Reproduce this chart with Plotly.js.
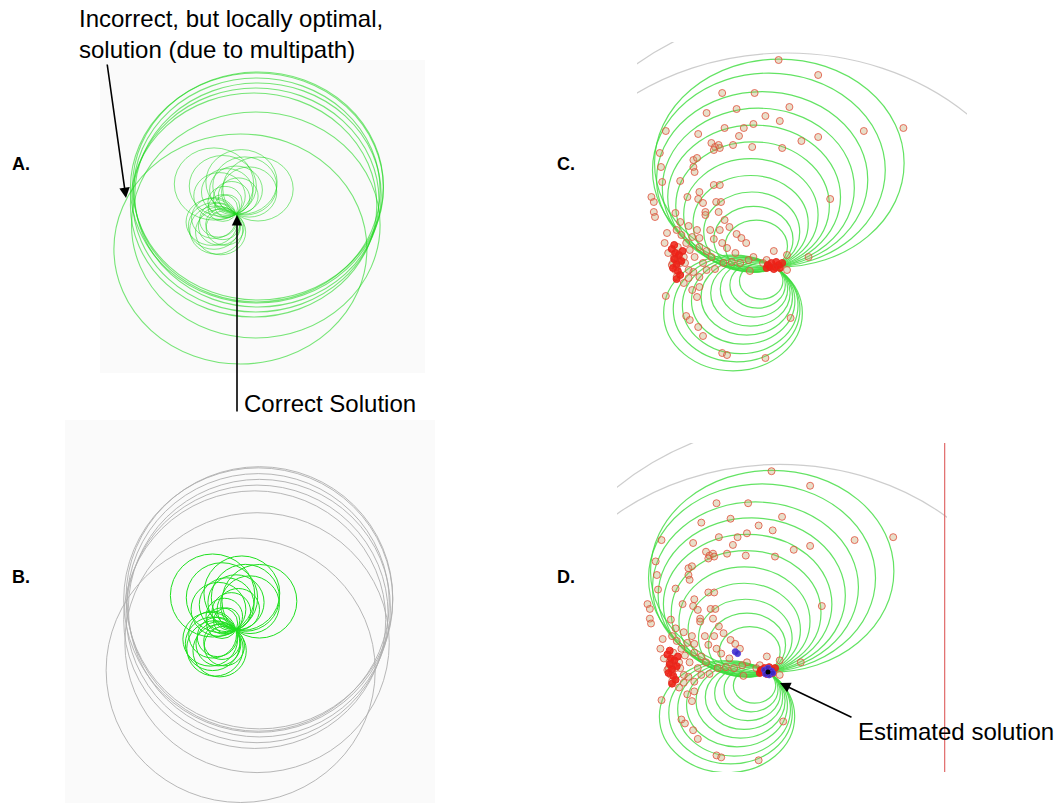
<!DOCTYPE html>
<html><head><meta charset="utf-8">
<script src="https://cdn.plot.ly/plotly-3.0.1.min.js"></script>
<style>html,body{margin:0;padding:0;background:#fff}#chart{width:1062px;height:803px}</style>
</head><body><div id="chart"></div>
<script>
// ---------- Panels A / B : trilateration circles (units: range, origin = correct solution) ----------
const bigCX = [19, 19, 20, 18, 16, 18, 4, 20];
const bigCY = [26, 24, 19, 14, 9, -11, -35, 28];
const bigR  = [115, 112, 112, 112, 112, 113, 115, 114];

const smallCX = [-20, 20, 5, -12, 12, -8, 0, -15, 8, -4, -10, 2, -12, -8,
                 -20, -18, -22, -15, -16, -12, -20, -10, -14];
const smallCY = [30, 25, 32, 28, 22, 22, 24, 18, 28, 16, 12, 18, 6, 8,
                 -12, -16, -8, -12, -6, -10, -4, -14, -18];
const smallR  = [36.1, 32.0, 32.4, 30.5, 25.1, 23.4, 24.0, 23.4, 29.1, 16.5, 15.6, 18.1, 13.4, 11.3,
                 23.3, 24.1, 23.4, 19.2, 17.1, 15.6, 20.4, 17.2, 22.8];

// ---------- Panels C / D : circles through the estimated position ----------
const upperCX = [3.6, -5.1, -10.7, -13.9, -17.4, -18.7, -20.1, -20.3, -19.4, -18.0, -15.6];
const upperCY = [103.9, 96.9, 87.3, 78.8, 69.9, 61.2, 52.3, 43.5, 35.0, 27.7, 20.8];
const upperR  = [104, 97, 88, 80, 72, 64, 56, 48, 40, 33, 26];

const lowerCX = [-35, -32, -29, -26.5, -23.5, -20.5, -17.5, -14.5, -11.5];
const lowerCY = [-46, -42, -38.5, -34, -30, -26, -22, -18, -14];
const lowerR  = [57.8, 52.8, 48.2, 43.1, 38.1, 33.1, 28.1, 23.1, 18.1];

const grayCX = [10, 46];
const grayCY = [-1, 12];
const grayR  = [215, 250];

const markX = [3,36,-44,-17,-57,-32,12,-8,4,-18,
  -26,-42,-30,-91,-64,74,107,36,22,6,
  -19,-35,-53,-50,-47,-46,-51,-96,-95,-94,
  -79,-68,-65,-68,-67,-103,-101,-101,-100,-63,
  -64,-73,-51,-46,-49,-45,-60,-58,-47,-58,
  -42,-83,-79,-72,-82,-78,-65,-69,-63,-54,
  -46,-38,-32,-28,-24,-18,-22,-33,-40,-44,
  -51,-63,-57,-53,-43,-36,-29,-21,-7,-1,
  10,28,-10,10,-90,-92,-89,-81,-76,-79,
  -83,-82,-76,-72,-68,-63,-57,-60,-69,-65,
  -63,-50,-91,-74,-71,-64,-60,-44,-40,-8,
  13,46,-83,-86,-82,-74,-71,-67,-75,-72,
  -85,-82,-81,-84];
const markY = [207,192,174,174,154,158,160,151,146,143,
  139,139,131,136,133,136,139,130,126,119,
  120,122,124,120,122,119,117,114,100,85,
  86,107,109,100,95,70,65,55,50,75,
  68,70,82,82,65,65,64,55,55,52,
  47,54,45,41,37,32,37,30,29,37,
  37,40,33,29,24,10,7,14,19,24,
  28,20,16,10,4,5,4,-4,7,16,
  12,10,4,-3,34,24,14,20,10,4,
  -3,-10,-16,-11,-5,-10,-3,4,-23,-30,
  -20,-2,-29,-49,-53,-60,-69,-86,-88,-91,
  -51,68,7,2,12,24,17,10,4,-3,
  4,0,7,10];

const blobX = [-6,-3,0,3,-1,-4,1,4,6,-7,-84,-82,-80,-85,-78,-83,-81,-86,-79,-84,-82,-77];
const blobY = [2,4,0,2,-2,0,5,-1,4,-1,8,3,12,-1,6,14,-4,18,-8,22,-12,16];

const blueX = [-3,0,3,1,-2,4,-28,-26];
const blueY = [2,4,1,-3,-2,-1,21,19];
const estX = [0];
const estY = [0];
const wallX = [151];

// ---------- layout helpers (pixel geometry of each panel) ----------
const W = 1062, H = 803;
const FONT = 'Liberation Sans, Arial, Helvetica, sans-serif';
const panels = [
  {id:'', box:[100,425,60,373], origin:[236,214], sx:1.10, sy:1.00, bg:'#fafafa'},
  {id:'2', box:[65,435,420,803], origin:[236,630], sx:1.17, sy:1.15, bg:'#fafafa'},
  {id:'3', box:[637,967,42,378], origin:[775,267], sx:1.20, sy:1.00, bg:'#ffffff'},
  {id:'4', box:[617,947,443,772], origin:[768,672], sx:1.17, sy:0.97, bg:'#ffffff'}
];
const layout = {
  width: W, height: H, margin:{l:0,r:0,t:0,b:0},
  paper_bgcolor:'#ffffff', plot_bgcolor:'rgba(0,0,0,0)',
  showlegend:false, shapes:[], annotations:[], font:{family:FONT, color:'#000'}
};
panels.forEach(p => {
  const b = p.box, ox = p.origin[0], oy = p.origin[1];
  layout['xaxis'+p.id] = {domain:[b[0]/W, b[1]/W], range:[(b[0]-ox)/p.sx, (b[1]-ox)/p.sx],
    visible:false, fixedrange:true, anchor:'y'+p.id};
  layout['yaxis'+p.id] = {domain:[1-b[3]/H, 1-b[2]/H], range:[(oy-b[3])/p.sy, (oy-b[2])/p.sy],
    visible:false, fixedrange:true, anchor:'x'+p.id};
  layout.shapes.push({type:'rect', xref:'x'+p.id+' domain', yref:'y'+p.id+' domain',
    x0:0, x1:1, y0:0, y1:1, fillcolor:p.bg, line:{width:0}, layer:'below'});
});
function addCircles(ax, cx, cy, r, color, width) {
  for (let i = 0; i < cx.length; i++) {
    layout.shapes.push({type:'circle', xref:'x'+ax, yref:'y'+ax,
      x0:cx[i]-r[i], x1:cx[i]+r[i], y0:cy[i]-r[i], y1:cy[i]+r[i],
      line:{color:color, width:width}, layer:'below'});
  }
}
// Panel A
addCircles('', bigCX, bigCY, bigR, 'rgba(30,215,30,0.6)', 1.1);
addCircles('', smallCX, smallCY, smallR, 'rgba(30,215,30,0.55)', 1);
// Panel B
addCircles('2', bigCX, bigCY, bigR, 'rgba(175,175,175,0.9)', 1);
addCircles('2', smallCX, smallCY, smallR, '#1ee01e', 1);
// Panels C and D
['3','4'].forEach(ax => {
  addCircles(ax, grayCX, grayCY, grayR, 'rgba(200,200,200,0.9)', 1.2);
  addCircles(ax, upperCX, upperCY, upperR, 'rgba(60,220,60,0.8)', 1.2);
  addCircles(ax, lowerCX, lowerCY, lowerR, 'rgba(60,220,60,0.8)', 1.2);
});
layout.shapes.push({type:'line', xref:'x4', yref:'y4 domain', x0:wallX[0], x1:wallX[0], y0:0, y1:1,
  line:{color:'#e06a6a', width:1.2}});

const traces = [];
traces.push({type:'scatter', mode:'markers', x:bigCX, y:bigCY, xaxis:'x', yaxis:'y',
  marker:{opacity:0}, hoverinfo:'skip'});
traces.push({type:'scatter', mode:'markers', x:bigCX, y:bigCY, xaxis:'x2', yaxis:'y2',
  marker:{opacity:0}, hoverinfo:'skip'});
['3','4'].forEach(ax => {
  traces.push({type:'scatter', mode:'markers', x:markX, y:markY, xaxis:'x'+ax, yaxis:'y'+ax,
    marker:{size:7, color:'rgba(190,160,100,0.35)', line:{color:'rgba(225,80,60,0.8)', width:1}},
    hoverinfo:'skip'});
  traces.push({type:'scatter', mode:'markers', x:blobX, y:blobY, xaxis:'x'+ax, yaxis:'y'+ax,
    marker:{size:7, color:'rgba(240,30,20,0.85)', line:{color:'rgba(230,40,30,1)', width:1}},
    hoverinfo:'skip'});
});
traces.push({type:'scatter', mode:'markers', x:blueX, y:blueY, xaxis:'x4', yaxis:'y4',
  marker:{size:6, color:'rgba(50,40,200,0.85)', line:{color:'rgba(90,60,220,1)', width:1}}, hoverinfo:'skip'});
traces.push({type:'scatter', mode:'markers', x:estX, y:estY, xaxis:'x4', yaxis:'y4',
  marker:{size:5, color:'#000'}, hoverinfo:'skip'});

// ---------- annotations ----------
const PX = x => x / W, PY = y => 1 - y / H;
function label(text, x, y, size, bold, xanchor) {
  layout.annotations.push({xref:'paper', yref:'paper', x:PX(x), y:PY(y), xanchor:xanchor||'left',
    yanchor:'middle', showarrow:false, align:'left',
    text: bold ? '<b>'+text+'</b>' : text, font:{family:FONT, size:size, color:'#000'}});
}
function arrow(tx, ty, ax, ay) {
  layout.annotations.push({xref:'paper', yref:'paper', x:PX(tx), y:PY(ty), ax:ax, ay:ay,
    showarrow:true, text:'', arrowhead:2, arrowsize:1.3, arrowwidth:1.6, arrowcolor:'#000'});
}
label('A.', 10, 164, 18, true);
label('C.', 555, 164, 18, true);
label('B.', 10, 577, 18, true);
label('D.', 555, 577, 18, true);
layout.annotations.push({xref:'paper', yref:'paper', x:PX(77), y:PY(3), xanchor:'left', yanchor:'top',
  showarrow:false, align:'left', text:'Incorrect, but locally optimal,<br>solution (due to multipath)',
  font:{family:FONT, size:24, color:'#000'}});
label('Correct Solution', 242, 403, 24, false);
label('Estimated solution', 856, 731, 24, false);
arrow(126, 198, -19, -135);
arrow(237, 215, 0, 198);
arrow(780, 683, 73, 35);

Plotly.newPlot('chart', traces, layout, {staticPlot:true, displayModeBar:false});
</script>
</body></html>
